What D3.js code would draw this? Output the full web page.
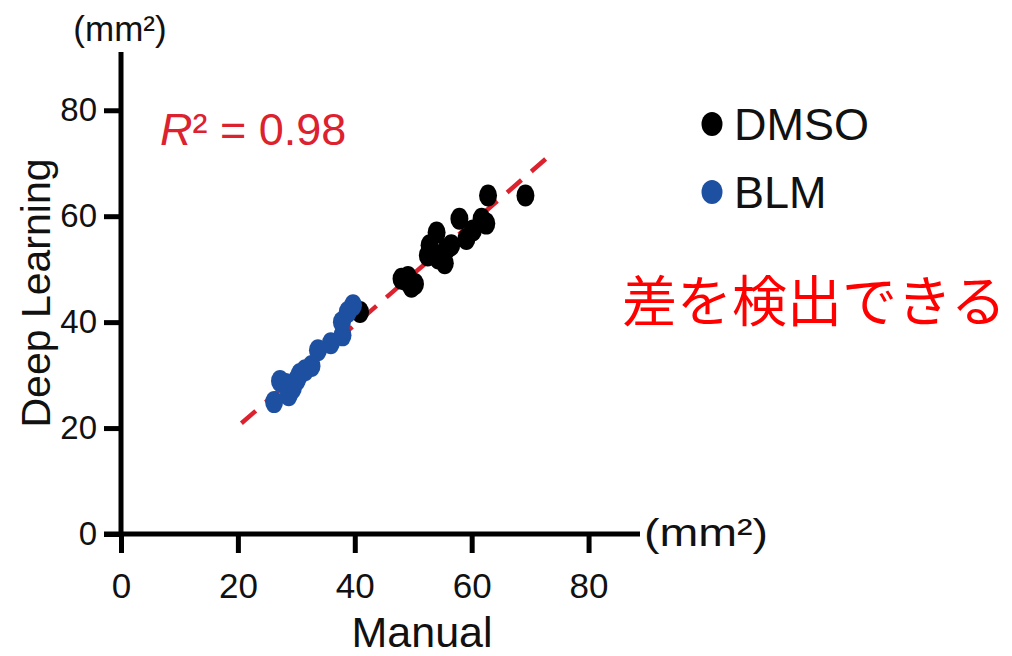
<!DOCTYPE html>
<html><head><meta charset="utf-8">
<script src="https://cdn.jsdelivr.net/npm/d3@7"></script>
<style>
html,body{margin:0;padding:0;background:#fff;}
svg{display:block;}
text{font-family:"Liberation Sans",Arial,sans-serif;}
</style></head>
<body>
<svg id="chart" width="1012" height="656"></svg>
<script>
// ---- data ----
const dmsoManual = [40.9,48.0,48.8,49.1,49.7,50.3,52.5,52.8,54.0,54.3,55.4,55.7,56.5,57.9,59.1,60.2,61.7,62.5,62.8,69.2];
const dmsoDeep   = [41.9,48.2,47.9,48.5,46.7,47.2,52.6,54.5,56.9,52.0,51.1,53.8,54.5,59.5,55.7,57.3,59.5,58.6,63.9,63.9];
const blmManual  = [26.2,27.2,28.2,28.7,29.4,30.1,30.6,31.5,32.6,33.7,35.9,37.9,37.8,38.8,39.7];
const blmDeep    = [24.9,28.9,28.3,26.2,27.5,29.1,30.2,30.9,31.7,34.7,36.0,37.5,40.0,41.9,43.2];
const fitX = [20.6, 73.8];
const fitY = [20.9, 71.9];
const xTicks = [0,20,40,60,80];
const yTicks = [0,20,40,60,80];
const seriesNames = ["DMSO","BLM"];
const seriesColors = ["#000000","#1e50a2"];

const svg = d3.select("#chart");
const x = d3.scaleLinear().domain([0, 88.8]).range([121, 640]);
const y = d3.scaleLinear().domain([0, 91]).range([534, 52]);

// axes
const gx = svg.append("g").attr("transform", `translate(0,${y(0)})`)
  .call(d3.axisBottom(x).tickValues(xTicks).tickSize(19).tickSizeOuter(0).tickPadding(20));
const gy = svg.append("g").attr("transform", `translate(${x(0)},0)`)
  .call(d3.axisLeft(y).tickValues(yTicks).tickSize(17).tickSizeOuter(0).tickPadding(7));
[gx, gy].forEach(g => {
  g.select(".domain").attr("stroke","#000").attr("stroke-width",5);
  g.selectAll(".tick line").attr("stroke","#000").attr("stroke-width",5);
  g.selectAll(".tick text").attr("fill","#111");
});
gx.selectAll(".tick text").style("font-size","35px");
gy.selectAll(".tick text").style("font-size","33px");
gy.select(".domain").attr("d", `M0,${y(91)}V${y(0)+2.5}`);
gx.select(".domain").attr("d", `M${x(0)-17},0H${x(88.8)}`);

// fit line
svg.append("line")
  .attr("x1", x(fitX[0])).attr("y1", y(fitY[0]))
  .attr("x2", x(fitX[1])).attr("y2", y(fitY[1]))
  .attr("stroke", "#dc222e").attr("stroke-width", 4.5)
  .attr("stroke-dasharray", "19,13");

// points
const dms = dmsoManual.map((v,i)=>({x:v,y:dmsoDeep[i]}));
const blm = blmManual.map((v,i)=>({x:v,y:blmDeep[i]}));
svg.append("g").selectAll("ellipse").data(dms).join("ellipse")
  .attr("cx", d=>x(d.x)).attr("cy", d=>y(d.y)).attr("rx", 9).attr("ry", 11)
  .attr("fill", seriesColors[0]);
svg.append("g").selectAll("ellipse").data(blm).join("ellipse")
  .attr("cx", d=>x(d.x)).attr("cy", d=>y(d.y)).attr("rx", 9).attr("ry", 11)
  .attr("fill", seriesColors[1]);

// axis titles
svg.append("text").attr("x", 120).attr("y", 41).attr("text-anchor","middle")
  .style("font-size","35px").attr("fill","#111").text("(mm²)");
svg.append("text").attr("x", 644).attr("y", 546).attr("text-anchor","start")
  .attr("textLength", 124).attr("lengthAdjust","spacingAndGlyphs")
  .style("font-size","38px").attr("fill","#111").text("(mm²)");
svg.append("text").attr("x", 422).attr("y", 647).attr("text-anchor","middle")
  .style("font-size","43px").attr("fill","#111").text("Manual");
svg.append("text").attr("transform","translate(50,293) rotate(-90)").attr("text-anchor","middle")
  .style("font-size","41px").attr("fill","#111").text("Deep Learning");

// R^2
const r2 = svg.append("text").attr("x", 160).attr("y", 145).style("font-size","45px").attr("fill","#dc222e");
r2.append("tspan").style("font-style","italic").text("R");
r2.append("tspan").text("² = 0.98");

// legend
const leg = svg.append("g");
seriesNames.forEach((n,i)=>{
  const cy = 124 + i*68;
  leg.append("ellipse").attr("cx",712).attr("cy",cy).attr("rx",10.5).attr("ry",12).attr("fill",seriesColors[i]);
  leg.append("text").attr("x",734).attr("y",cy+16).style("font-size","45px").attr("fill","#111").text(n);
});

// annotation
svg.append("text").attr("x", 622).attr("y", 297).attr("dominant-baseline","central")
  .attr("textLength", 384).attr("lengthAdjust","spacingAndGlyphs")
  .style("font-family","'Noto Sans CJK JP',sans-serif").style("font-size","55px")
  .attr("fill","#ff0000").text("差を検出できる");
</script>
</body></html>
